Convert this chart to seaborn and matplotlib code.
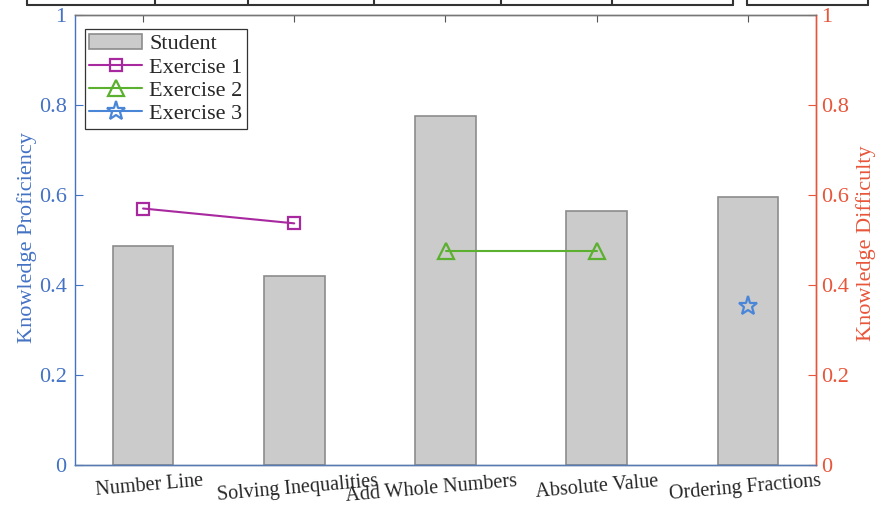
import matplotlib
matplotlib.use("Agg")
import matplotlib.pyplot as plt
import matplotlib.transforms as mtransforms
from matplotlib.lines import Line2D
from matplotlib.patches import Patch
import seaborn as sns
import pandas as pd

# Knowledge concepts on the x axis
concepts = ["Number Line", "Solving Inequalities", "Add Whole Numbers",
            "Absolute Value", "Ordering Fractions"]

# Student proficiency per concept (left axis)
proficiency = [0.487, 0.420, 0.776, 0.565, 0.596]

# Exercise difficulty on the concepts each exercise covers (right axis)
ex1_concepts = ["Number Line", "Solving Inequalities"]
ex1_difficulty = [0.570, 0.537]
ex2_concepts = ["Add Whole Numbers", "Absolute Value"]
ex2_difficulty = [0.476, 0.476]
ex3_concepts = ["Ordering Fractions"]
ex3_difficulty = [0.353]

yticks = [0, 0.2, 0.4, 0.6, 0.8, 1]
ytick_labels = ["0", "0.2", "0.4", "0.6", "0.8", "1"]

sns.set_theme(style="white")
plt.rcParams["font.family"] = ["Liberation Serif", "DejaVu Serif"]

LEFT_C = "#4472C4"
RIGHT_C = "#E8553A"
EX1_C = "#A8289F"
EX2_C = "#5BB02F"
EX3_C = "#4A86D8"
BAR_FACE = "#CBCBCB"
BAR_EDGE = "#8C8C8C"
FS_Y = 16
FS_X = 14.5
FS_LAB = 16

fig = plt.figure(figsize=(8.75, 5.05), dpi=100)
ax = fig.add_axes([75 / 875, 1 - 465 / 505, (816 - 75) / 875, (465 - 15) / 505])

df_bar = pd.DataFrame({"concept": concepts, "proficiency": proficiency})
sns.barplot(data=df_bar, x="concept", y="proficiency", order=concepts,
            color=BAR_FACE, width=0.4, edgecolor=BAR_EDGE, linewidth=1.2,
            saturation=1, ax=ax)
for p in ax.patches:
    p.set_facecolor(BAR_FACE)

ax.set_xlim(-0.45, len(concepts) - 0.55)
ax.set_ylim(0, 1)
ax.set_yticks(yticks)
ax.set_yticklabels(ytick_labels, fontsize=FS_Y, color=LEFT_C)
ax.set_ylabel("")
ax.set_xlabel("")
ax.set_xticks(range(len(concepts)))
ax.set_xticklabels(concepts, rotation=5, ha="center", fontsize=FS_X, color="#262626")
ax.tick_params(axis="x", direction="in", length=5, pad=5, top=True,
               color="#555555", width=0.8)
ax.tick_params(axis="y", direction="in", length=6, pad=6, colors=LEFT_C,
               left=True, right=False, width=0.8)

# nudge the concept labels; the middle one sits a little lower and left
label_shift_px = [(6, 0), (3, 0), (-14, 0), (0, 0), (-3, 0)]
for lbl, (dx, dy) in zip(ax.get_xticklabels(), label_shift_px):
    lbl.set_transform(lbl.get_transform() +
                      mtransforms.ScaledTranslation(dx / 100, dy / 100, fig.dpi_scale_trans))

# axis titles placed at fixed figure positions
fig.text(27 / 875, 1 - 238 / 505, "Knowledge Proficiency", rotation=90,
         ha="center", va="center", fontsize=FS_LAB, color=LEFT_C)
fig.text(866 / 875, 1 - 243 / 505, "Knowledge Difficulty", rotation=90,
         ha="center", va="center", fontsize=FS_LAB, color=RIGHT_C)

# right axis for difficulty
ax2 = ax.twinx()
idx = {c: i for i, c in enumerate(concepts)}
series = [
    ("Exercise 1", ex1_concepts, ex1_difficulty, EX1_C, "s", 9),
    ("Exercise 2", ex2_concepts, ex2_difficulty, EX2_C, "^", 12),
    ("Exercise 3", ex3_concepts, ex3_difficulty, EX3_C, "*", 14),
]
for name, cs, vals, col, mk, ms in series:
    d = pd.DataFrame({"x": [idx[c] for c in cs], "y": vals})
    sns.lineplot(data=d, x="x", y="y", ax=ax2, color=col, linewidth=1.5,
                 marker=mk, markersize=ms, markerfacecolor="none",
                 markeredgecolor=col, markeredgewidth=1.6, legend=False)

ax2.set_ylim(0, 1)
ax2.set_xlim(-0.45, len(concepts) - 0.55)
ax2.set_yticks(yticks)
ax2.set_yticklabels(ytick_labels, fontsize=FS_Y, color=RIGHT_C)
ax2.set_ylabel("")
ax2.set_xlabel("")
ax2.tick_params(axis="y", direction="in", length=6, pad=4, colors=RIGHT_C,
                width=0.8)

for a in (ax, ax2):
    for s in a.spines.values():
        s.set_linewidth(1.0)
    a.spines["top"].set_color("#777777")
    a.spines["bottom"].set_color("#5A7BB0")
    a.spines["left"].set_color(LEFT_C)
    a.spines["right"].set_color(RIGHT_C)
ax2.spines["left"].set_visible(False)

handles = [
    Patch(facecolor=BAR_FACE, edgecolor=BAR_EDGE, linewidth=1.2, label="Student"),
    Line2D([], [], color=EX1_C, marker="s", markersize=9, markerfacecolor="none",
           markeredgewidth=1.6, linewidth=1.5, label="Exercise 1"),
    Line2D([], [], color=EX2_C, marker="^", markersize=12, markerfacecolor="none",
           markeredgewidth=1.6, linewidth=1.5, label="Exercise 2"),
    Line2D([], [], color=EX3_C, marker="*", markersize=14, markerfacecolor="none",
           markeredgewidth=1.6, linewidth=1.5, label="Exercise 3"),
]
leg = ax2.legend(handles=handles, loc="upper left", bbox_to_anchor=(0.013, 0.968),
                 fontsize=FS_Y, frameon=True, fancybox=False, framealpha=1,
                 edgecolor="#333333", borderpad=0.2, labelspacing=0.12,
                 handlelength=2.4, handletextpad=0.3, borderaxespad=0)
leg.get_frame().set_linewidth(0.9)

# top border of the table above, cut by the frame edge
box_y = 1 - 5 / 505
segments = [(27, 733), (747, 868)]
dividers = [27, 155, 248, 374, 501, 612, 733, 747, 868]
for x0, x1 in segments:
    fig.add_artist(Line2D([x0 / 875, x1 / 875], [box_y, box_y], color="#333333",
                          linewidth=1.5, transform=fig.transFigure))
for xv in dividers:
    fig.add_artist(Line2D([xv / 875, xv / 875], [box_y, 1.0], color="#333333",
                          linewidth=1.5, transform=fig.transFigure))

fig.savefig("out.png", dpi=100)
